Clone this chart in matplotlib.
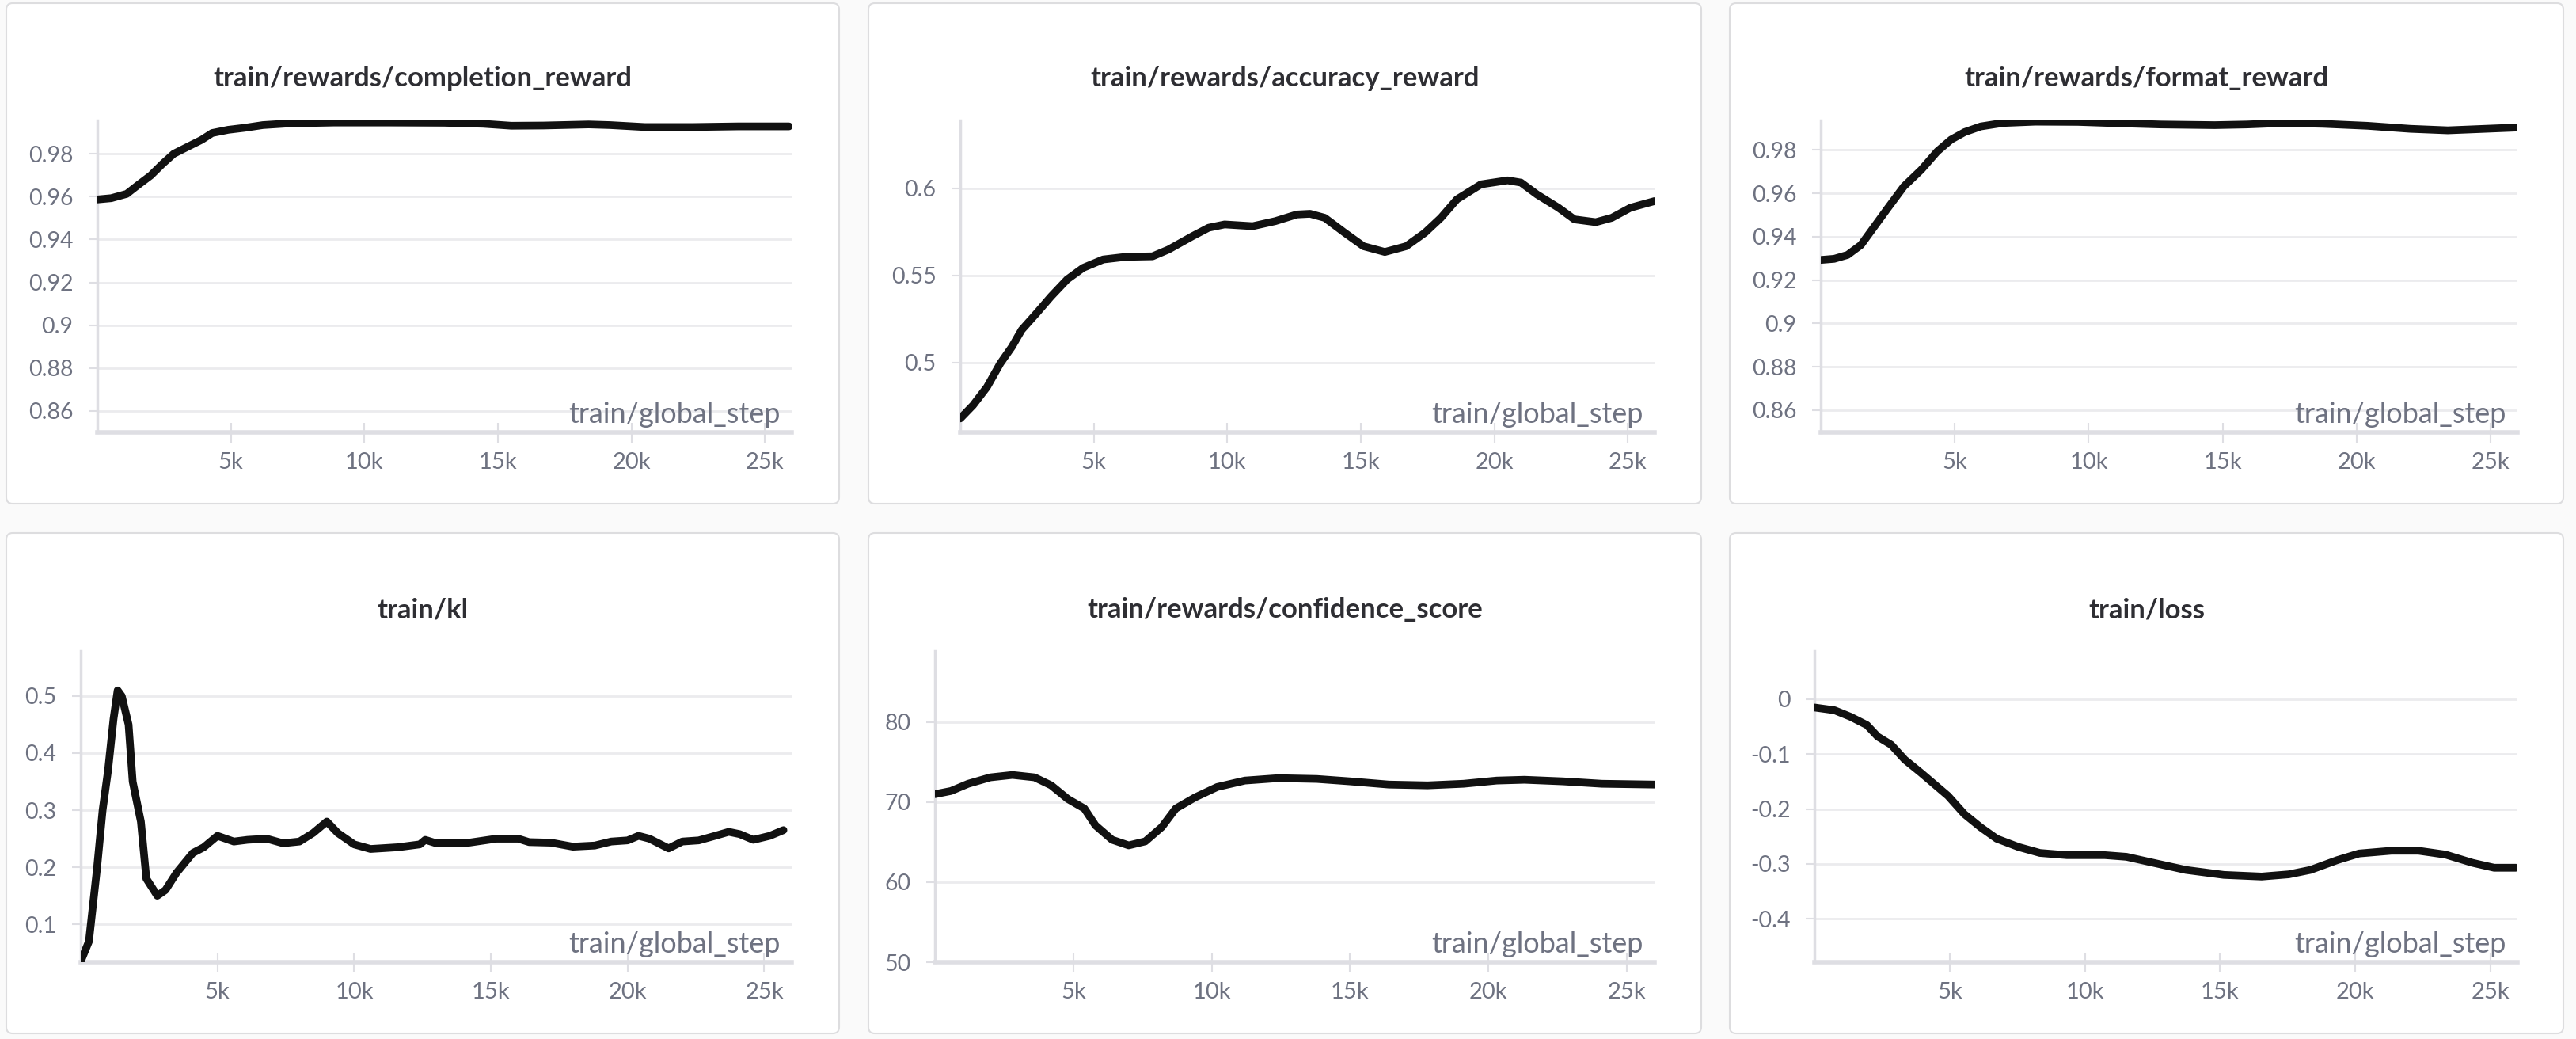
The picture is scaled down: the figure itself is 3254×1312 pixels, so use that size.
import matplotlib.pyplot as plt
from matplotlib.patches import FancyBboxPatch
from matplotlib.ticker import FuncFormatter

plt.rcParams['font.family'] = ['Lato', 'DejaVu Sans']

W, H = 3254, 1312

# ---- data ----
comp_x = [0, 520, 1100, 1500, 2000, 2440, 2860, 3400, 3900, 4300, 4900, 5500, 6200, 7200,
          8860, 10900, 13000, 14450, 15500, 16700, 18400, 19200, 20500, 22300, 24000, 25900]
comp_y = [0.9587, 0.9593, 0.9613, 0.9652, 0.9699, 0.9753, 0.980, 0.9834, 0.9865, 0.9897,
          0.9912, 0.9921, 0.9934, 0.9942, 0.9946, 0.9946, 0.9945, 0.994, 0.9931, 0.9932,
          0.9937, 0.9934, 0.9925, 0.9925, 0.9928, 0.9928]

acc_x = [0, 480, 1000, 1500, 1930, 2300, 2860, 3400, 4000, 4600, 5350, 6200, 7200, 7800,
         8700, 9300, 9900, 10950, 11800, 12600, 13100, 13650, 14400, 15100, 15900, 16700,
         17400, 18000, 18600, 19500, 20500, 21000, 21600, 22400, 23000, 23800, 24400, 25100, 26000]
acc_y = [0.468, 0.4756, 0.486, 0.4996, 0.509, 0.5188, 0.5284, 0.538, 0.5477, 0.5544, 0.5592,
         0.5607, 0.561, 0.5649, 0.5726, 0.5774, 0.5793, 0.5783, 0.5812, 0.585, 0.5854, 0.5831,
         0.5745, 0.5668, 0.5635, 0.5668, 0.5745, 0.5831, 0.5937, 0.6023, 0.6046, 0.6033,
         0.5965, 0.5889, 0.5822, 0.5806, 0.5831, 0.5889, 0.5927]

fmt_x = [0, 500, 1000, 1500, 2000, 2500, 3100, 3750, 4350, 4860, 5370, 5970, 6800, 8000,
         9600, 11050, 12700, 14700, 15900, 17300, 18750, 20400, 22000, 23400, 24800, 26000]
fmt_y = [0.9293, 0.9298, 0.9316, 0.9362, 0.9447, 0.9532, 0.9632, 0.9709, 0.9794, 0.9848,
         0.9883, 0.9909, 0.9925, 0.9931, 0.993, 0.9924, 0.9918, 0.9915, 0.9918, 0.9925,
         0.9921, 0.9912, 0.9898, 0.9891, 0.9898, 0.9904]

kl_x = [0, 300, 600, 800, 1000, 1200, 1350, 1500, 1750, 1900, 2200, 2400, 2800, 3100, 3500,
        4100, 4500, 5000, 5600, 6100, 6800, 7400, 8000, 8500, 9000, 9400, 10000, 10600,
        11600, 12400, 12600, 13000, 14200, 15200, 16000, 16400, 17200, 18000, 18800, 19400,
        20000, 20400, 20800, 21500, 22000, 22600, 23200, 23700, 24100, 24600, 25200, 25700]
kl_y = [0.035, 0.07, 0.2, 0.3, 0.37, 0.46, 0.51, 0.50, 0.45, 0.35, 0.28, 0.18, 0.15, 0.16,
        0.19, 0.225, 0.235, 0.255, 0.245, 0.248, 0.25, 0.242, 0.245, 0.26, 0.28, 0.26, 0.24,
        0.232, 0.235, 0.24, 0.248, 0.242, 0.243, 0.25, 0.25, 0.244, 0.243, 0.236, 0.238,
        0.245, 0.247, 0.255, 0.25, 0.233, 0.245, 0.247, 0.255, 0.262, 0.258, 0.248, 0.255, 0.265]

conf_x = [0, 580, 1200, 2000, 2800, 3600, 4200, 4800, 5400, 5800, 6400, 7000, 7600, 8200,
          8700, 9400, 10200, 11200, 12400, 13800, 15000, 16400, 17800, 19100, 20300, 21300,
          22700, 24100, 26000]
conf_y = [71.0, 71.4, 72.3, 73.1, 73.4, 73.1, 72.1, 70.4, 69.2, 67.1, 65.3, 64.6, 65.1, 66.9,
          69.2, 70.6, 71.9, 72.7, 73.0, 72.9, 72.6, 72.2, 72.1, 72.3, 72.7, 72.8, 72.6, 72.3, 72.2]

loss_x = [0, 740, 1340, 1940, 2340, 2840, 3340, 3940, 4440, 4940, 5540, 6140, 6740, 7540,
          8340, 9340, 10740, 11540, 12540, 13740, 15140, 16540, 17540, 18340, 19340, 20140,
          21340, 22340, 23340, 24340, 25140, 25940]
loss_y = [-0.015, -0.020, -0.032, -0.047, -0.068, -0.083, -0.110, -0.134, -0.155, -0.176,
          -0.209, -0.233, -0.254, -0.269, -0.280, -0.284, -0.284, -0.287, -0.298, -0.311,
          -0.320, -0.323, -0.319, -0.311, -0.293, -0.281, -0.276, -0.276, -0.283, -0.298,
          -0.307, -0.307]

titles = ['train/rewards/completion_reward', 'train/rewards/accuracy_reward',
          'train/rewards/format_reward', 'train/kl', 'train/rewards/confidence_score',
          'train/loss']
series = [(comp_x, comp_y), (acc_x, acc_y), (fmt_x, fmt_y),
          (kl_x, kl_y), (conf_x, conf_y), (loss_x, loss_y)]
yticks = [[0.86, 0.88, 0.9, 0.92, 0.94, 0.96, 0.98], [0.5, 0.55, 0.6],
          [0.86, 0.88, 0.9, 0.92, 0.94, 0.96, 0.98], [0.1, 0.2, 0.3, 0.4, 0.5],
          [50, 60, 70, 80], [-0.4, -0.3, -0.2, -0.1, 0]]
ylims = [(0.85, 0.9956), (0.46, 0.639), (0.8497, 0.9937),
         (0.0336, 0.579), (50, 88.9), (-0.479, 0.088)]
xticks = [5000, 10000, 15000, 20000, 25000]

# ---- layout in pixels ----
cards = [(8, 4, 1060, 636), (1097, 4, 2149, 636), (2185, 4, 3238, 636),
         (8, 673, 1060, 1305), (1097, 673, 2149, 1305), (2185, 673, 3238, 1305)]
plot_boxes = [(123, 152, 1000, 546), (1213, 152, 2090, 546), (2300, 152, 3180, 546),
              (102, 822, 1000, 1215), (1181, 822, 2090, 1215), (2292, 822, 3180, 1215)]
title_y = [99, 99, 99, 770, 770, 770]

GRID = '#ebebee'
AXIS = '#dedee3'
TICKLBL = '#6e7281'

fig = plt.figure(figsize=(W / 100, H / 100), dpi=100, facecolor='#fafafa')
bg = fig.add_axes([0, 0, 1, 1])
bg.set_xlim(0, W)
bg.set_ylim(H, 0)
bg.axis('off')

for (x0, y0, x1, y1), t, ty in zip(cards, titles, title_y):
    bg.add_patch(FancyBboxPatch((x0, y0), x1 - x0, y1 - y0,
                                boxstyle='round,pad=0,rounding_size=8',
                                facecolor='white', edgecolor='#dddddf', linewidth=1.5))
    bg.text((x0 + x1) / 2, ty, t, ha='center', va='center', fontsize=25,
            fontweight='bold', color='#2e2e33')


def fmt(v, pos):
    s = ('%.2f' % v).rstrip('0').rstrip('.')
    return '0' if s == '-0' else s


for i, ((px0, py0, px1, py1), (xs, ys)) in enumerate(zip(plot_boxes, series)):
    ax = fig.add_axes([px0 / W, 1 - py1 / H, (px1 - px0) / W, (py1 - py0) / H])
    ax.set_facecolor('none')
    ax.plot(xs, ys, color='#111111', linewidth=7, solid_capstyle='round',
            solid_joinstyle='round', zorder=3)
    ax.set_xlim(0, 26000)
    ax.set_ylim(*ylims[i])
    ax.set_xticks(xticks)
    ax.set_xticklabels(['5k', '10k', '15k', '20k', '25k'])
    ax.set_yticks(yticks[i])
    ax.yaxis.set_major_formatter(FuncFormatter(fmt))
    ax.grid(axis='y', color=GRID, linewidth=2)
    ax.set_axisbelow(True)
    for s in ['top', 'right']:
        ax.spines[s].set_visible(False)
    ax.spines['left'].set_color(AXIS)
    ax.spines['left'].set_linewidth(2.5)
    ax.spines['bottom'].set_color(AXIS)
    ax.spines['bottom'].set_linewidth(4)
    ax.tick_params(axis='x', direction='inout', length=18, width=1.5, color=AXIS,
                   labelsize=21, labelcolor=TICKLBL, pad=9)
    ax.tick_params(axis='y', direction='out', length=8, width=1.5, color=AXIS,
                   labelsize=20.5, labelcolor=TICKLBL, pad=14)
    ax.annotate('train/global_step', xy=(1, 0), xycoords='axes fraction',
                xytext=(-10, 16), textcoords='offset points', ha='right', va='center',
                fontsize=26, color=TICKLBL)

fig.savefig('out.png', dpi=100, facecolor=fig.get_facecolor())
